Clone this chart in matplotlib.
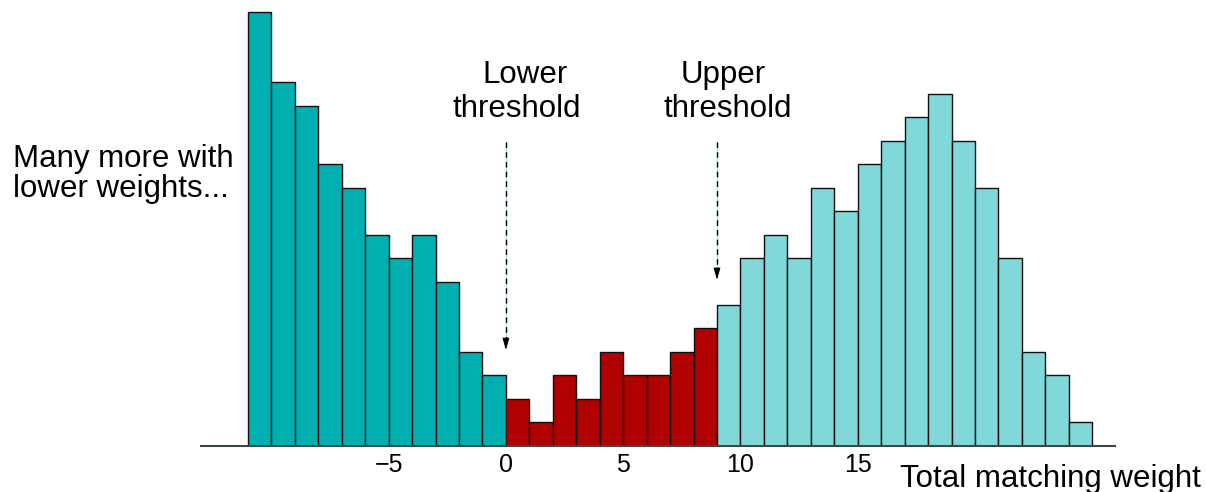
import numpy as np
import matplotlib
matplotlib.use('Agg')
import matplotlib.pyplot as plt

plt.rcParams['font.family'] = ['Liberation Sans', 'DejaVu Sans']

# counts per unit bin of total matching weight
low_counts = [18.5, 15.5, 14.5, 12, 11, 9, 8, 9, 7, 4, 3]          # -11 .. 0
mid_counts = [2, 1, 3, 2, 4, 3, 3, 4, 5]                            # 0 .. 9
high_counts = [6, 8, 9, 8, 11, 10, 12, 13, 14, 15, 13, 11, 8, 4, 3, 1]  # 9 .. 25
first_bin = -11
lower_threshold = 0
upper_threshold = 9
tick_values = [-5, 0, 5, 10, 15]

counts = low_counts + mid_counts + high_counts
edges = np.arange(first_bin, first_bin + len(counts))
colors = (['#00b0b0'] * len(low_counts) + ['#b00000'] * len(mid_counts)
          + ['#80d8d8'] * len(high_counts))

fig = plt.figure(figsize=(12.06, 4.92), dpi=100)
ax = fig.add_axes([201 / 1206, 46.3 / 492, 914 / 1206, 0.9056])

ax.bar(edges, counts, width=1, align='edge', color=colors,
       edgecolor='#101010', linewidth=1.0, zorder=2)

ax.set_xlim(-13.0, 25.97)
ax.set_ylim(0, 19)
for s in ['top', 'left', 'right']:
    ax.spines[s].set_visible(False)
ax.spines['bottom'].set_color('#3c4848')
ax.spines['bottom'].set_linewidth(1.5)
ax.set_yticks([])
ax.set_xticks(tick_values)
ax.tick_params(axis='x', length=0, pad=5, labelsize=18)

# threshold arrows: black dashes over a light cyan line
for xt, tip in [(lower_threshold, 4.08), (upper_threshold, 7.07)]:
    ax.plot([xt, xt], [12.96, tip + 0.3], color='#a8eaea', lw=1, zorder=3)
    ax.plot([xt, xt], [12.96, tip + 0.3], color='black', lw=1,
            dashes=(4, 3), zorder=4)
    ax.annotate('', xy=(xt, tip), xytext=(xt, tip + 0.5),
                arrowprops=dict(arrowstyle='-|>,head_length=0.7,head_width=0.2',
                                color='black', lw=0.8, shrinkA=0, shrinkB=0),
                zorder=5)

fs = 22.5
fig.text(525 / 1206, 1 - 83.3 / 492, 'Lower', fontsize=fs, ha='center', va='baseline')
fig.text(517 / 1206, 1 - 116.7 / 492, 'threshold', fontsize=fs, ha='center', va='baseline')
fig.text(723.5 / 1206, 1 - 83.3 / 492, 'Upper', fontsize=fs, ha='center', va='baseline')
fig.text(728 / 1206, 1 - 116.7 / 492, 'threshold', fontsize=fs, ha='center', va='baseline')
fig.text(13 / 1206, 1 - 166.7 / 492, 'Many more with', fontsize=fs, ha='left', va='baseline')
fig.text(13 / 1206, 1 - 196.7 / 492, 'lower weights...', fontsize=fs, ha='left', va='baseline')
fig.text(900 / 1206, 1 - 486.7 / 492, 'Total matching weight', fontsize=fs,
         ha='left', va='baseline')

fig.savefig('out.png', dpi=100)
